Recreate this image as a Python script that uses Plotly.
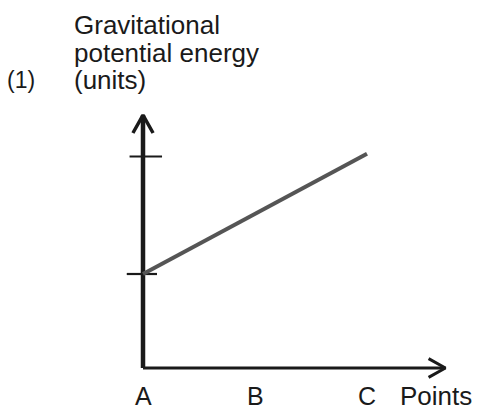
import plotly.graph_objects as go

# ---- data ----
points = ["A", "B", "C"]
point_pos = [0, 1, 2]
energy = [1.0, 1.64, 2.28]          # gravitational potential energy (units)
y_tick_vals = [1.0, 2.25]           # the two tick marks on the vertical axis
x_axis_end = 2.70
y_axis_end = 2.69
y_title_lines = ["Gravitational", "potential energy", "(units)"]
x_title = "Points"
panel_label = "(1)"

W, H = 481, 414
FONT = "Liberation Sans, Arial, Helvetica, sans-serif"
INK = "#1a1a1a"
FS = 25

fig = go.Figure()

# vertical axis
fig.add_trace(go.Scatter(x=[0, 0], y=[0, y_axis_end], mode="lines",
                         line=dict(color=INK, width=4.5), hoverinfo="skip"))
# horizontal axis
fig.add_trace(go.Scatter(x=[0, x_axis_end], y=[0, 0], mode="lines",
                         line=dict(color=INK, width=3), hoverinfo="skip"))
# arrowheads (chevrons)
fig.add_trace(go.Scatter(x=[-0.09, 0, 0.09], y=[y_axis_end - 0.19, y_axis_end, y_axis_end - 0.19],
                         mode="lines", line=dict(color=INK, width=3.5), hoverinfo="skip"))
fig.add_trace(go.Scatter(x=[x_axis_end - 0.15, x_axis_end, x_axis_end - 0.15], y=[0.1, 0, -0.1],
                         mode="lines", line=dict(color=INK, width=3), hoverinfo="skip"))
# tick marks on vertical axis
tick_half = [(-0.12, 0.17), (-0.145, 0.125)]
for v, (a, b) in zip(sorted(y_tick_vals, reverse=True), tick_half):
    fig.add_trace(go.Scatter(x=[a, b], y=[v, v], mode="lines",
                             line=dict(color=INK, width=2.2), hoverinfo="skip"))

# data line
fig.add_trace(go.Scatter(x=point_pos, y=energy, mode="lines",
                         line=dict(color="#555555", width=4), hoverinfo="skip"))

# x category labels
for p, xp in zip(points, point_pos):
    fig.add_annotation(x=xp, y=-0.3, xref="x", yref="y", text=p, showarrow=False,
                       font=dict(family=FONT, size=FS, color=INK),
                       xanchor="center", yanchor="middle")

def px(xp):
    return xp / W

def py(yp):
    return 1 - yp / H

fig.add_annotation(x=px(398), y=py(396), xref="paper", yref="paper", text=x_title,
                   showarrow=False, font=dict(family=FONT, size=26, color=INK),
                   xanchor="left", yanchor="middle")

for txt, yc in zip(y_title_lines, [25, 53, 80]):
    fig.add_annotation(x=px(72), y=py(yc), xref="paper", yref="paper", text=txt,
                       showarrow=False, font=dict(family=FONT, size=26, color=INK),
                       xanchor="left", yanchor="middle")

fig.add_annotation(x=px(5), y=py(80), xref="paper", yref="paper", text=panel_label,
                   showarrow=False, font=dict(family=FONT, size=FS - 2, color=INK),
                   xanchor="left", yanchor="middle")

fig.update_layout(
    width=W, height=H,
    margin=dict(l=0, r=0, t=0, b=0),
    paper_bgcolor="white", plot_bgcolor="white",
    showlegend=False,
    xaxis=dict(range=[-143 / 112, (W - 143) / 112], visible=False, fixedrange=True),
    yaxis=dict(range=[-(H - 368) / 94, 368 / 94], visible=False, fixedrange=True),
)

fig.write_html("out.html", config={"displayModeBar": False},
               post_script="document.body.style.margin='0';")
